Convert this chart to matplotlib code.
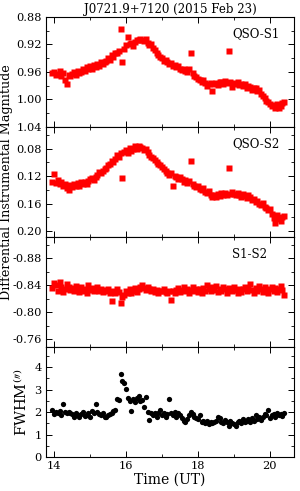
import matplotlib
matplotlib.use('Agg')
import matplotlib.pyplot as plt
from matplotlib.ticker import FixedLocator, FixedFormatter, MultipleLocator

plt.rcParams['font.family'] = 'DejaVu Serif'
plt.rcParams['mathtext.fontset'] = 'dejavuserif'

# observation times (UT hours)
time_ut = [13.95, 14.00, 14.05, 14.10, 14.15, 14.20, 14.25, 14.30, 14.35, 14.40,
           14.45, 14.50, 14.55, 14.60, 14.65, 14.70, 14.75, 14.80, 14.85, 14.90,
           14.95, 15.00, 15.05, 15.10, 15.15, 15.20, 15.25, 15.30, 15.35, 15.40,
           15.45, 15.50, 15.55, 15.60, 15.65, 15.70, 15.75, 15.80, 15.85, 15.90,
           15.95, 16.00, 16.05, 16.10, 16.15, 16.20, 16.25, 16.30, 16.35, 16.40,
           16.45, 16.50, 16.55, 16.60, 16.65, 16.70, 16.75, 16.80, 16.85, 16.90,
           16.95, 17.00, 17.05, 17.10, 17.15, 17.20, 17.25, 17.30, 17.35, 17.40,
           17.45, 17.50, 17.55, 17.60, 17.65, 17.70, 17.75, 17.80, 17.85, 17.90,
           17.95, 18.00, 18.05, 18.10, 18.15, 18.20, 18.25, 18.30, 18.35, 18.40,
           18.45, 18.50, 18.55, 18.60, 18.65, 18.70, 18.75, 18.80, 18.85, 18.90,
           18.95, 19.00, 19.05, 19.10, 19.15, 19.20, 19.25, 19.30, 19.35, 19.40,
           19.45, 19.50, 19.55, 19.60, 19.65, 19.70, 19.75, 19.80, 19.85, 19.90,
           19.95, 20.00, 20.05, 20.10, 20.15, 20.20, 20.25, 20.30, 20.35, 20.40]

qso_s1 = [0.962, 0.960, 0.965, 0.963, 0.958, 0.966, 0.962, 0.972, 0.978, 0.964,
          0.966, 0.963, 0.960, 0.964, 0.958, 0.962, 0.960, 0.956, 0.958, 0.953,
          0.955, 0.952, 0.956, 0.950, 0.953, 0.948, 0.951, 0.946, 0.948, 0.945,
          0.944, 0.940, 0.942, 0.936, 0.938, 0.932, 0.933, 0.929, 0.898, 0.945,
          0.926, 0.921, 0.909, 0.920, 0.918, 0.922, 0.916, 0.914, 0.913, 0.912,
          0.913, 0.915, 0.912, 0.918, 0.921, 0.920, 0.925, 0.928, 0.932, 0.936,
          0.938, 0.940, 0.944, 0.943, 0.946, 0.949, 0.947, 0.952, 0.950, 0.953,
          0.952, 0.955, 0.957, 0.955, 0.958, 0.960, 0.956, 0.933, 0.962, 0.966,
          0.968, 0.970, 0.972, 0.975, 0.972, 0.976, 0.980, 0.978, 0.976, 0.988,
          0.978, 0.976, 0.979, 0.975, 0.974, 0.977, 0.973, 0.976, 0.930, 0.974,
          0.982, 0.976, 0.978, 0.975, 0.979, 0.977, 0.981, 0.978, 0.983, 0.980,
          0.982, 0.986, 0.984, 0.983, 0.988, 0.986, 0.992, 0.995, 0.998, 1.002,
          1.004, 1.006, 1.010, 1.008, 1.012, 1.007, 1.013, 1.009, 1.005, 1.004]

qso_s2 = [0.128, 0.117, 0.130, 0.126, 0.132, 0.129, 0.134, 0.131, 0.138, 0.141,
          0.133, 0.136, 0.131, 0.134, 0.130, 0.135, 0.129, 0.132, 0.128, 0.131,
          0.127, 0.125, 0.123, 0.126, 0.121, 0.118, 0.114, 0.116, 0.112, 0.110,
          0.108, 0.104, 0.102, 0.098, 0.100, 0.095, 0.090, 0.093, 0.087, 0.123,
          0.085, 0.082, 0.087, 0.079, 0.083, 0.081, 0.077, 0.080, 0.076, 0.078,
          0.079, 0.082, 0.080, 0.085, 0.089, 0.092, 0.094, 0.097, 0.099, 0.102,
          0.104, 0.107, 0.110, 0.112, 0.115, 0.118, 0.116, 0.134, 0.120, 0.122,
          0.124, 0.121, 0.125, 0.128, 0.126, 0.130, 0.127, 0.098, 0.131, 0.134,
          0.136, 0.135, 0.139, 0.141, 0.138, 0.143, 0.145, 0.142, 0.147, 0.150,
          0.148, 0.151, 0.146, 0.149, 0.145, 0.147, 0.144, 0.148, 0.108, 0.146,
          0.143, 0.146, 0.148, 0.144, 0.147, 0.150, 0.146, 0.149, 0.152, 0.148,
          0.151, 0.155, 0.153, 0.158, 0.156, 0.160, 0.162, 0.159, 0.165, 0.167,
          0.170, 0.168, 0.175, 0.181, 0.189, 0.177, 0.183, 0.186, 0.180, 0.178]

s1_s2 = [-0.836, -0.843, -0.840, -0.832, -0.844, -0.838, -0.830, -0.835, -0.842, -0.837,
         -0.833, -0.836, -0.831, -0.839, -0.834, -0.830, -0.837, -0.832, -0.835, -0.829,
         -0.840, -0.833, -0.836, -0.831, -0.834, -0.838, -0.832, -0.835, -0.830, -0.833,
         -0.831, -0.834, -0.829, -0.817, -0.832, -0.828, -0.835, -0.830, -0.813, -0.822,
         -0.826, -0.831, -0.829, -0.834, -0.828, -0.832, -0.836, -0.830, -0.834, -0.838,
         -0.840, -0.836, -0.833, -0.838, -0.835, -0.831, -0.834, -0.830, -0.833, -0.829,
         -0.832, -0.831, -0.834, -0.830, -0.828, -0.832, -0.818, -0.831, -0.829, -0.833,
         -0.836, -0.830, -0.833, -0.838, -0.831, -0.834, -0.829, -0.833, -0.837, -0.831,
         -0.835, -0.830, -0.834, -0.829, -0.836, -0.832, -0.841, -0.834, -0.831, -0.837,
         -0.833, -0.839, -0.830, -0.835, -0.832, -0.838, -0.834, -0.829, -0.836, -0.833,
         -0.831, -0.837, -0.833, -0.828, -0.835, -0.830, -0.834, -0.838, -0.831, -0.836,
         -0.842, -0.833, -0.829, -0.836, -0.832, -0.839, -0.834, -0.830, -0.837, -0.833,
         -0.828, -0.835, -0.838, -0.832, -0.836, -0.830, -0.834, -0.839, -0.833, -0.826]

fwhm = [2.10, 1.90, 2.00, 1.95, 2.05, 1.85, 2.38, 2.00, 1.95, 2.02,
        1.98, 1.92, 1.80, 1.95, 1.85, 1.78, 1.90, 2.00, 1.82, 1.88,
        1.95, 1.80, 2.05, 1.98, 2.35, 2.00, 1.92, 1.85, 1.95, 1.80,
        1.78, 1.85, 1.90, 1.95, 2.05, 2.10, 2.60, 2.55, 3.70, 3.40,
        3.30, 3.04, 2.65, 2.50, 2.05, 2.58, 2.45, 2.62, 2.70, 2.48,
        2.55, 2.22, 2.68, 2.00, 1.66, 1.95, 1.85, 1.98, 1.80, 1.95,
        2.10, 1.85, 1.98, 1.80, 1.90, 2.60, 1.95, 1.85, 2.00, 1.80,
        1.95, 1.85, 1.75, 1.60, 1.55, 1.70, 1.85, 2.00, 1.90, 1.80,
        1.75, 1.70, 1.85, 1.55, 1.60, 1.50, 1.62, 1.48, 1.55, 1.50,
        1.55, 1.62, 1.80, 1.75, 1.58, 1.50, 1.65, 1.55, 1.40, 1.60,
        1.50, 1.45, 1.40, 1.55, 1.62, 1.50, 1.68, 1.55, 1.60, 1.70,
        1.58, 1.75, 1.62, 1.85, 1.70, 1.80, 1.65, 1.78, 1.90, 1.85,
        2.10, 1.75, 1.85, 1.92, 1.80, 1.95, 1.88, 1.90, 1.82, 1.95]

panel_names = ['QSO-S1', 'QSO-S2', 'S1-S2', '']
ytick_vals = [[0.88, 0.92, 0.96, 1.00, 1.04],
              [0.08, 0.12, 0.16, 0.20],
              [-0.88, -0.84, -0.80, -0.76],
              [0, 1, 2, 3, 4]]
ytick_labels = [['0.88', '0.92', '0.96', '1.00', '1.04'],
                ['0.08', '0.12', '0.16', '0.20'],
                ['-0.88', '-0.84', '-0.80', '-0.76'],
                ['0', '1', '2', '3', '4']]
xtick_vals = [14, 16, 18, 20]

fig, axes = plt.subplots(4, 1, sharex=True, figsize=(3.0, 4.91), dpi=100)
fig.subplots_adjust(left=0.153, right=0.98, top=0.9654, bottom=0.0692, hspace=0)

series = [qso_s1, qso_s2, s1_s2]
ylims = [(1.04, 0.88), (0.2087, 0.0487), (-0.7487, -0.9112)]
for ax, vals, yl, name in zip(axes[:3], series, ylims, panel_names):
    ax.plot(time_ut, vals, 's', color='#ff0000', ms=3.9, mec='none')
    ax.set_ylim(*yl)
    ax.yaxis.set_minor_locator(MultipleLocator(0.02))
    ax.text(0.75, 0.845, name, transform=ax.transAxes, fontsize=8.5, va='center')

axes[3].plot(time_ut, fwhm, 'o', color='black', ms=3.8, mec='none')
axes[3].set_ylim(0, 4.9)
axes[3].yaxis.set_minor_locator(MultipleLocator(0.5))

for ax, tv, tl in zip(axes, ytick_vals, ytick_labels):
    ax.yaxis.set_major_locator(FixedLocator(tv))
    ax.yaxis.set_major_formatter(FixedFormatter(tl))
    ax.tick_params(which='both', direction='in', top=True, right=True, labelsize=8.2)
    ax.tick_params(which='major', length=4, width=0.7, pad=3)
    ax.tick_params(which='minor', length=2, width=0.6)
    for sp in ax.spines.values():
        sp.set_linewidth(0.8)

axes[3].set_xlim(13.77, 20.67)
axes[3].xaxis.set_major_locator(FixedLocator(xtick_vals))
axes[3].xaxis.set_minor_locator(MultipleLocator(1))
axes[3].set_xlabel('Time (UT)', fontsize=10, labelpad=1)
axes[3].set_ylabel(r'FWHM$^{(\prime\prime)}$', fontsize=10.5, labelpad=3)

axes[0].set_title('J0721.9+7120 (2015 Feb 23)', fontsize=8.5, pad=3)
fig.text(0.021, 0.63, 'Differential Instrumental Magnitude', rotation=90,
         ha='center', va='center', fontsize=9.2)

fig.savefig('out.png', dpi=100)
